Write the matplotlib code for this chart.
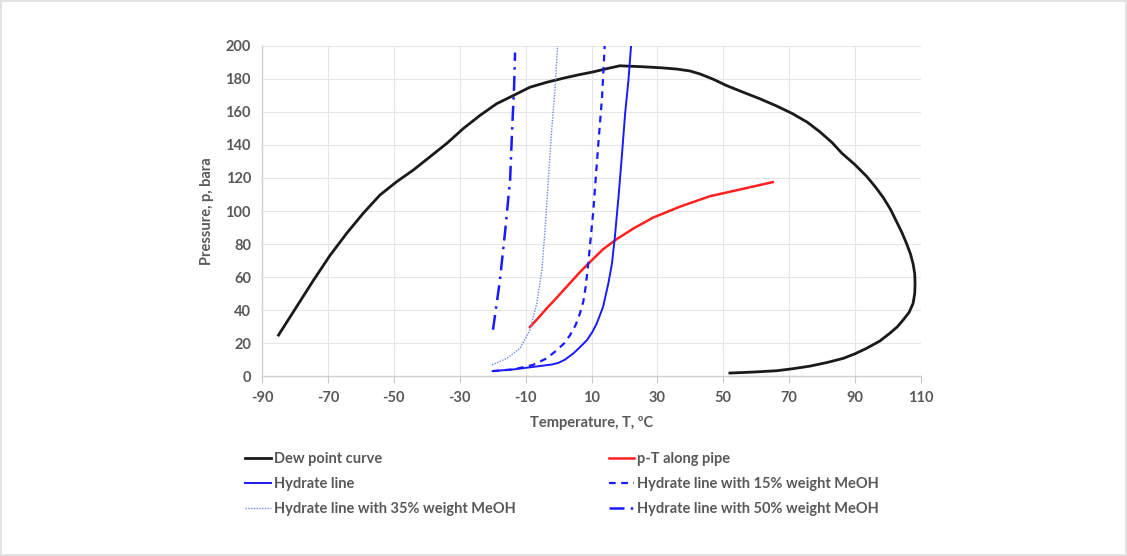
import matplotlib
matplotlib.use('Agg')
import matplotlib.pyplot as plt
plt.rc('font', family='Lato')
plt.rc('axes', unicode_minus=False)

# dew point curve (T in degC, p in bara)
dew_T = [-85, -79.5, -74.4, -69.4, -64.3, -59.3, -54.2, -49.1, -44.1, -39, -33.9, -28.9, -23.8, -18.8,
         -13.7, -8.7, -3.6, 1.5, 6, 10.5, 14.5, 18.6, 25.7, 31, 36, 40, 43, 47, 51, 56, 61.1, 66, 71,
         75.5, 79.3, 83, 86, 90, 93.5, 96.2, 98.6, 100.8, 102.6, 104.2, 105.6, 106.8, 107.6, 108.1,
         108.2, 108.1, 107.6, 106.4, 104.6, 102.8, 100.6, 97.5, 93.5, 90, 86.4, 81.5, 76.3, 71, 66.2, 59, 52]
dew_p = [24.8, 42, 58, 73, 86.5, 98.6, 109.7, 117.8, 124.8, 132.9, 141, 150, 158, 165,
         170, 175, 178, 180.5, 182.5, 184.3, 186.2, 188, 187.4, 186.8, 186, 184.8, 183, 179.8, 176, 172, 168, 163.8, 159,
         153.8, 148, 141.5, 135, 128, 121, 114.5, 108, 100.8, 93.5, 87, 80.4, 74, 68, 62,
         56, 50, 44, 38.6, 34, 29.8, 26, 21.2, 16.8, 13.5, 10.7, 8.2, 6, 4.4, 3.2, 2.4, 1.8]

# p-T along pipe
pipe_T = [-8.7, -6, -3.6, -1, 1.5, 4, 6.5, 9.5, 13.6, 17.7, 22.8, 28.7, 36.8, 46, 55, 65]
pipe_p = [29.7, 35.5, 41, 46.5, 52, 57.5, 63, 69, 77, 83, 89.5, 96, 102.6, 109, 113, 117.5]

# hydrate line
hyd_T = [-20, -13.7, -7.8, -2, 0, 2, 4.5, 6.5, 8.6, 10.2, 11.6, 13.5, 15.1, 16.2, 17.1, 18.2, 19.2, 20.2, 21.2, 22]
hyd_p = [3, 4, 5.5, 7, 8, 10, 13.7, 17.5, 21.7, 26.5, 31.9, 41.8, 56, 68, 84.4, 108.7, 133, 159, 179, 200]

# hydrate line with 15% weight MeOH
m15_T = [-20, -13.7, -7.8, -3.6, -0.5, 1.8, 3.5, 5.2, 6.5, 7.5, 8.3, 9, 10.5, 12, 13.2, 14]
m15_p = [3, 4, 6.7, 10.7, 15.7, 20, 24.8, 31, 38, 45, 55, 68, 99, 139, 169, 200]

# hydrate line with 35% weight MeOH
m35_T = [-20.2, -15.7, -11.7, -8.7, -6.6, -5.1, -4.1, -3.1, -2.1, -1.1, -0.3]
m35_p = [6.7, 10.7, 16.8, 27.9, 44, 64, 88.5, 118.8, 149, 173, 200]

# hydrate line with 50% weight MeOH
m50_T = [-19.9, -17.8, -16.2, -14.7, -14.1, -13.5, -13.2]
m50_p = [28, 58, 88, 119, 149, 175, 196]

x_ticks = list(range(-90, 111, 20))
y_ticks = list(range(0, 201, 20))

grey = '#595959'
blue = '#1a1aff'

fig = plt.figure(figsize=(11.27, 5.56), dpi=100)
fig.patch.set_edgecolor('#e3e3e3')
fig.patch.set_linewidth(1.5)
ax = fig.add_axes([0.2325, 0.3237, 0.5847, 0.5936])

l_dew, = ax.plot(dew_T, dew_p, color='#1a1a1a', lw=2.0, label='Dew point curve')
l_pipe, = ax.plot(pipe_T, pipe_p, color='#ff2020', lw=1.8, label='p-T along pipe')
l_hyd, = ax.plot(hyd_T, hyd_p, color=blue, lw=1.4, label='Hydrate line')
l_15, = ax.plot(m15_T, m15_p, color=blue, lw=1.6, ls=(0, (3, 2.5)),
                label='Hydrate line with 15% weight MeOH')
l_35, = ax.plot(m35_T, m35_p, color='#6f86e8', lw=1.0, ls=(0, (1, 1)),
                label='Hydrate line with 35% weight MeOH')
l_50, = ax.plot(m50_T, m50_p, color=blue, lw=1.8, ls=(0, (6, 2.5, 1, 2.5)),
                label='Hydrate line with 50% weight MeOH')

ax.set_xlim(-90, 110)
ax.set_ylim(0, 200)
ax.set_xticks(x_ticks)
ax.set_yticks(y_ticks)
ax.grid(True, color='#e6e6e6', lw=0.8)
ax.set_axisbelow(True)
for s in ['top', 'right']:
    ax.spines[s].set_visible(False)
for s in ['left', 'bottom']:
    ax.spines[s].set_color('#d0d0d0')
    ax.spines[s].set_linewidth(1.0)
ax.tick_params(axis='x', direction='out', length=5, color='#c8c8c8', labelcolor=grey, labelsize=10.5, pad=6)
ax.tick_params(axis='y', length=0, labelcolor=grey, labelsize=10.5, pad=8)
for t in ax.get_xticklabels() + ax.get_yticklabels():
    t.set_fontweight('bold')

ax.set_xlabel('Temperature, T, ºC', color=grey, fontsize=10.5, fontweight='bold', labelpad=8)
ax.set_ylabel('Pressure, p, bara', color=grey, fontsize=10.5, fontweight='bold', labelpad=8)

# legend filled column-wise
handles = [l_dew, l_hyd, l_35, l_pipe, l_15, l_50]
leg = fig.legend(handles=handles, loc='upper left', bbox_to_anchor=(0.206, 0.21),
                 ncol=2, frameon=False, fontsize=10.5, handlelength=1.75, handletextpad=0.2,
                 columnspacing=6.4, labelspacing=0.75)
for t in leg.get_texts():
    t.set_color(grey)
    t.set_fontweight('bold')

fig.savefig('out.png', dpi=100)
